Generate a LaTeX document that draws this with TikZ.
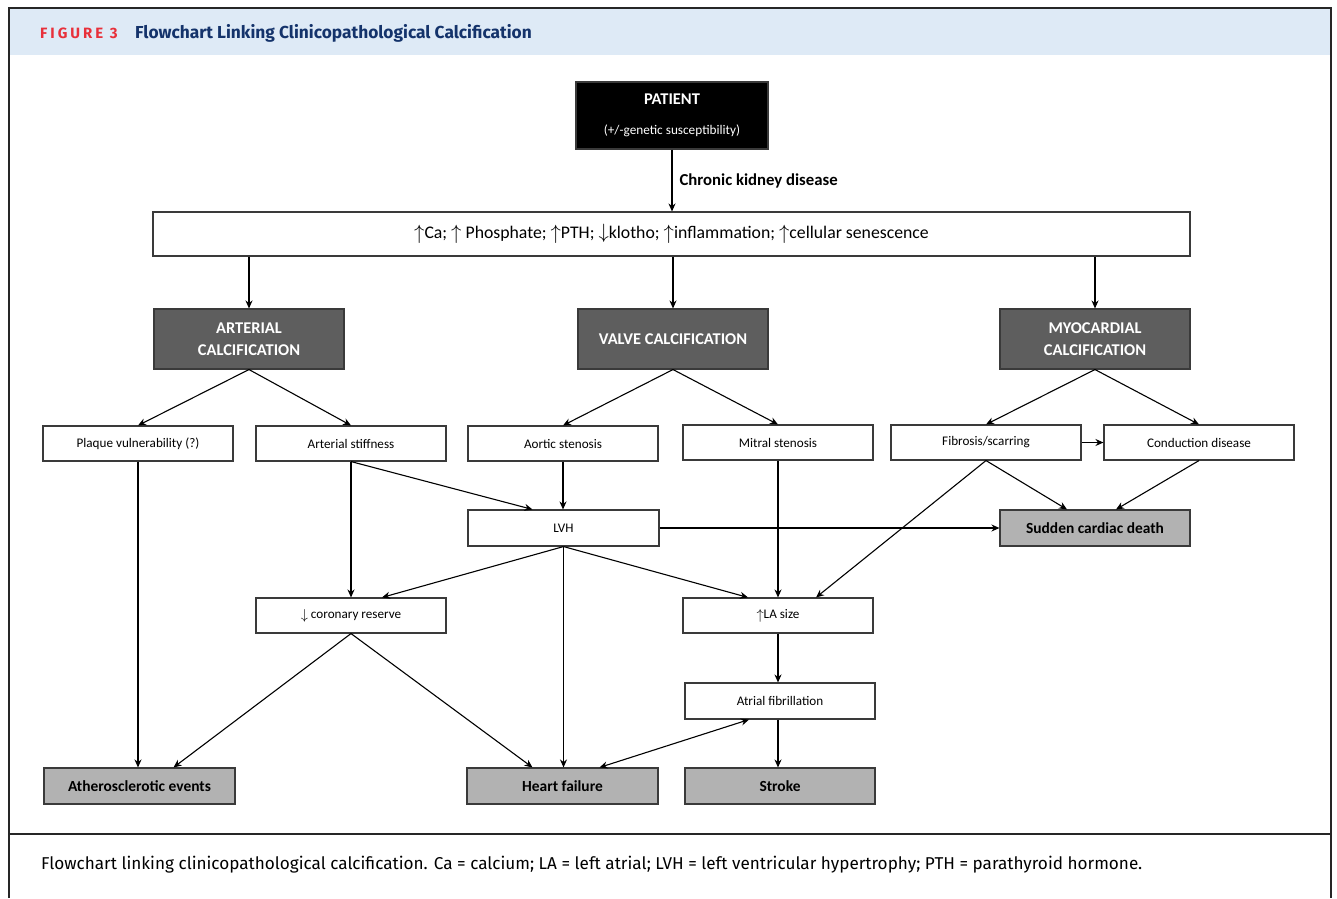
\documentclass[tikz,border=0pt]{standalone}
\usepackage{fontspec}
\setmainfont{Carlito}
\newfontfamily\hdrfont{Fira Sans}
\newfontfamily\figfont[LetterSpace=20]{Fira Sans}
\usetikzlibrary{arrows.meta}
\newcommand{\myup}{\raisebox{-0.15ex}{\scalebox{1.2}{$\uparrow$}}}
\newcommand{\mydown}{\raisebox{-0.05ex}{\scalebox{1.2}{$\downarrow$}}}
\definecolor{hdrblue}{HTML}{DEEAF6}
\definecolor{navy}{HTML}{14336B}
\definecolor{figred}{HTML}{E8303A}
\definecolor{darkbox}{HTML}{5E5E5E}
\definecolor{lightbox}{HTML}{B2B2B2}
\definecolor{edge}{HTML}{3A3A3A}
\tikzset{
  box/.style={draw=edge, line width=1.1bp, fill=white, minimum width=190bp, minimum height=35bp, inner sep=0pt, align=center, font=\fontsize{13.2}{15}\selectfont},
  calcbox/.style={box, fill=darkbox, minimum height=60bp, text=white, font=\bfseries\fontsize{16.5}{22}\selectfont},
  outbox/.style={box, fill=lightbox, minimum height=36bp, font=\bfseries\fontsize{15.5}{18}\selectfont},
  arr/.style={draw=black, line width=1.1bp, -{Stealth[length=8bp,width=7bp]}},
  darr/.style={draw=black, line width=1.1bp, {Stealth[length=8bp,width=7bp]}-{Stealth[length=8bp,width=7bp]}},
  frameline/.style={draw=black!85, line width=1.8bp}
}
\begin{document}
\begin{tikzpicture}[x=1bp,y=-1bp]
\useasboundingbox (0,0) rectangle (1337,898);
% frame and header
\fill[hdrblue] (10,9) rectangle (1330,55);
\draw[frameline] (9,898) -- (9,8) -- (1331,8) -- (1331,898);
\draw[frameline, line width=1.4bp] (9,834) -- (1331,834);
\node[anchor=west, inner sep=0pt, text=figred] (figlab) at (40,33) {\figfont\bfseries\fontsize{15}{17}\selectfont FIGURE 3};
\node[anchor=west, inner sep=0pt, text=navy] (title) at (135,33) {\hdrfont\bfseries\fontsize{17.4}{19}\selectfont Flowchart Linking Clinicopathological Calcification};
\node[anchor=west, inner sep=0pt] (caption) at (41,865) {\hdrfont\fontsize{17.2}{19}\selectfont Flowchart linking clinicopathological calcification. Ca = calcium; LA = left atrial; LVH = left ventricular hypertrophy; PTH = parathyroid hormone.};

% nodes
\node[box, fill=black, text=white, minimum width=192bp, minimum height=67bp] (patient) at (672,115.5)
  {{\bfseries\fontsize{16.5}{18}\selectfont PATIENT}\\[15bp]{\fontsize{13.3}{15}\selectfont (+/-genetic susceptibility)}};
\node[box, minimum width=1037bp, minimum height=44bp, font=\fontsize{17.8}{20}\selectfont] (big) at (671.5,234)
  {\myup Ca; \myup\ Phosphate; \myup PTH; \mydown klotho; \myup inflammation; \myup cellular senescence};
\node[calcbox] (art) at (249,339) {ARTERIAL\\CALCIFICATION};
\node[calcbox] (valve) at (673,339) {VALVE CALCIFICATION};
\node[calcbox] (myo) at (1095,339) {MYOCARDIAL\\CALCIFICATION};

\node[box] (plaque) at (138,443.5) {Plaque vulnerability (?)};
\node[box] (stiff) at (351,443.5) {Arterial stiffness};
\node[box] (aortic) at (563,443.5) {Aortic stenosis};
\node[box] (mitral) at (778,442.5) {Mitral stenosis};
\node[box] (fib) at (986,442.5) {Fibrosis/scarring};
\node[box] (cond) at (1199,442.5) {Conduction disease};

\node[box, minimum width=191bp, minimum height=36bp] (lvh) at (563.5,528) {LVH};
\node[outbox] (scd) at (1095,528) {Sudden cardiac death};

\node[box] (cor) at (351,615.5) {\mydown\ coronary reserve};
\node[box] (la) at (778,615.5) {\myup LA size};
\node[box, minimum height=36bp] (af) at (780,701) {Atrial fibrillation};

\node[outbox, minimum width=191bp] (ath) at (139.5,786) {Atherosclerotic events};
\node[outbox, minimum width=191bp] (hf) at (562.5,786) {Heart failure};
\node[outbox] (stroke) at (780,786) {Stroke};

% connectors
\draw[arr] (patient.south) -- (patient.south |- big.north)
  node[pos=0.5, anchor=west, xshift=7bp, inner sep=0pt, font=\bfseries\fontsize{16.8}{19}\selectfont, text=black] {Chronic kidney disease};
\draw[arr] (big.south -| art) -- (art.north);
\draw[arr] (big.south -| valve) -- (valve.north);
\draw[arr] (big.south -| myo) -- (myo.north);

\draw[arr] (art.south) -- (plaque.north);
\draw[arr] (art.south) -- (stiff.north);
\draw[arr] (valve.south) -- (aortic.north);
\draw[arr] (valve.south) -- (mitral.north);
\draw[arr] (myo.south) -- (fib.north);
\draw[arr] (myo.south) -- (cond.north);

\draw[arr] (fib.east) -- (cond.west);
\draw[arr] (fib.south) -- ([xshift=-28bp]scd.north);
\draw[arr] (cond.south) -- ([xshift=21bp]scd.north);
\draw[arr] (fib.south) -- ([xshift=38bp]la.north);
\draw[arr] (lvh.east) -- (scd.west);

\draw[arr] (plaque.south) -- (plaque.south |- ath.north);
\draw[arr] (stiff.south) -- (cor.north);
\draw[arr] (stiff.south) -- ([xshift=-31bp]lvh.north);
\draw[arr] (aortic.south) -- (aortic.south |- lvh.north);
\draw[arr] (mitral.south) -- (la.north);

\draw[arr] (lvh.south) -- ([xshift=31bp]cor.north);
\draw[arr] (lvh.south) -- ([xshift=-30bp]la.north);
\draw[arr] (lvh.south) -- (lvh.south |- hf.north);

\draw[arr] (cor.south) -- ([xshift=34bp]ath.north);
\draw[arr] (cor.south) -- ([xshift=-30bp]hf.north);

\draw[arr] (la.south) -- (la.south |- af.north);
\draw[arr] (af.south -| la) -- (stroke.north -| la);
\draw[darr] ([xshift=-31bp]af.south) -- ([xshift=37bp]hf.north);
\end{tikzpicture}
\end{document}
